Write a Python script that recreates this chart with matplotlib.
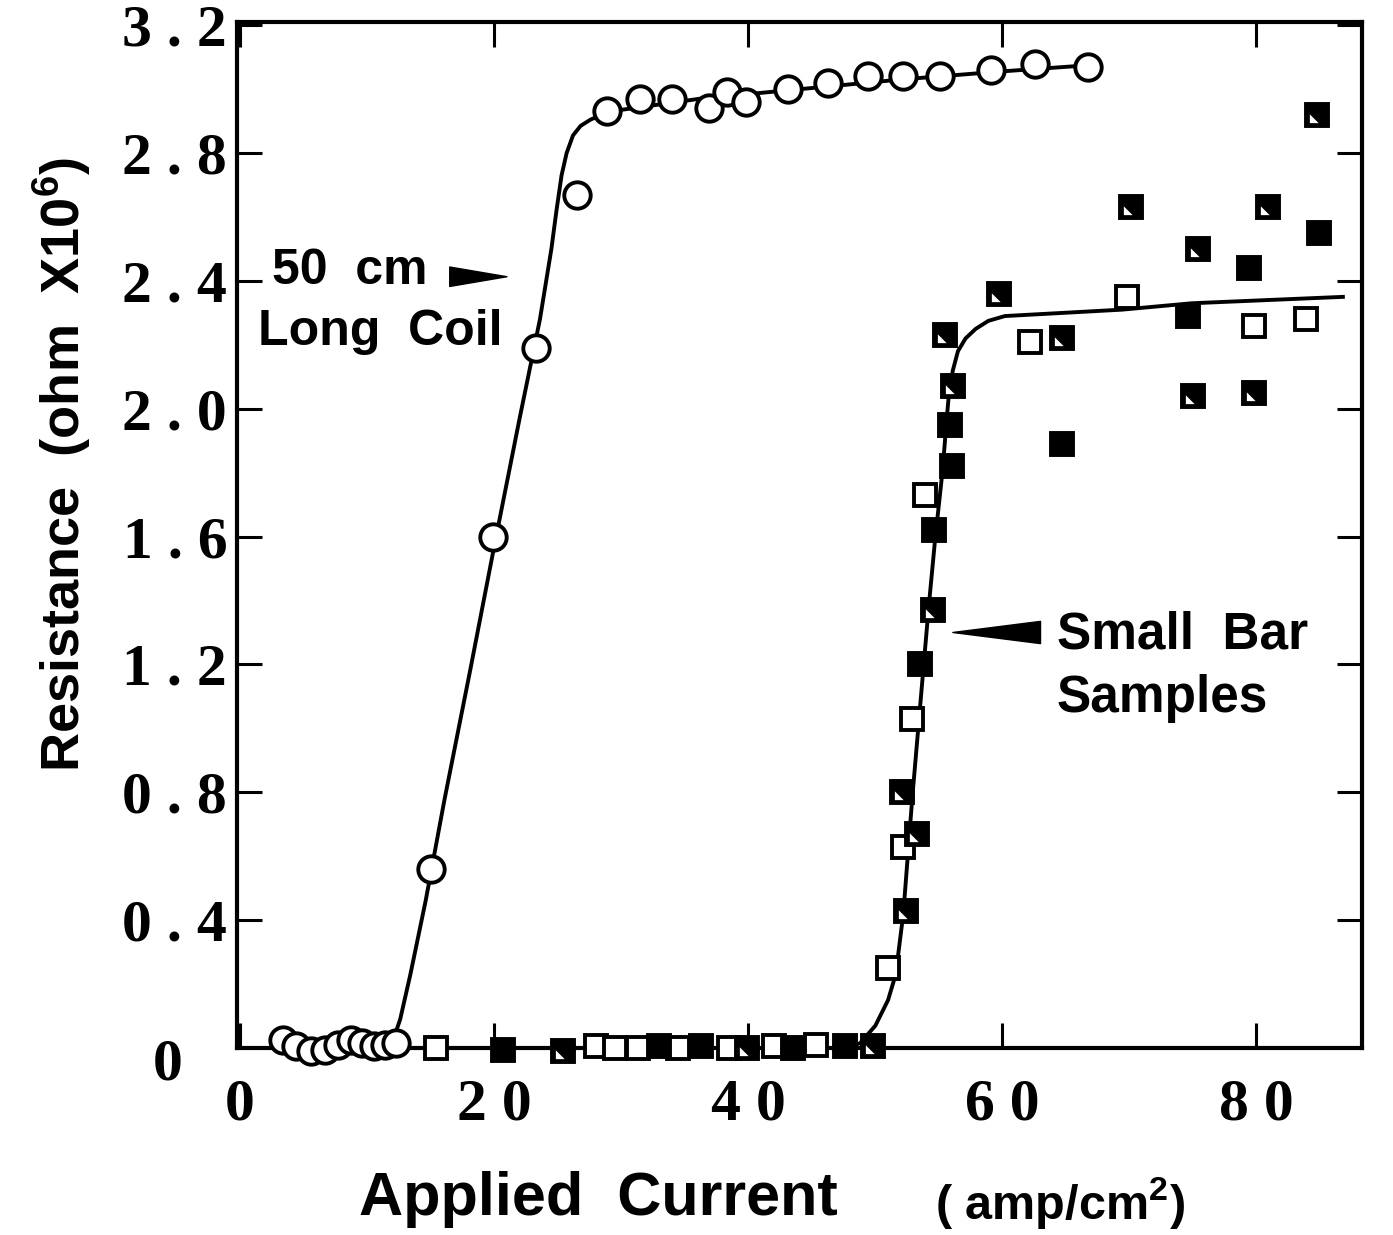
import matplotlib.pyplot as plt
import numpy as np

# fonts: sans bold for words, serif bold for the tick numbers
plt.rcParams['mathtext.fontset'] = 'custom'
plt.rcParams['mathtext.rm'] = 'Liberation Sans:bold'
plt.rcParams['mathtext.bf'] = 'Liberation Sans:bold'
plt.rcParams['mathtext.default'] = 'rm'
SANS = 'Liberation Sans'
SERIF = 'Liberation Serif'

# 50 cm long coil, measured points (open circles)
coil_x = [3.4, 4.4, 5.6, 6.7, 7.7, 8.7, 9.6, 10.5, 11.4, 12.3,
          15.0, 19.9, 23.3, 26.5, 28.9, 31.5, 34.0, 36.9, 38.3, 39.8,
          43.1, 46.3, 49.4, 52.2, 55.1, 59.1, 62.6, 66.7]
coil_y = [0.025, 0.005, -0.01, -0.005, 0.01, 0.025, 0.015, 0.005, 0.01, 0.015,
          0.56, 1.60, 2.19, 2.67, 2.93, 2.97, 2.97, 2.94, 2.99, 2.96,
          3.00, 3.02, 3.04, 3.04, 3.04, 3.06, 3.08, 3.07]

# drawn trend line through the coil points
coil_line_x = [11.0, 12.0, 12.6, 13.4, 14.6, 16.1, 18.1, 20.1, 22.0, 23.6,
               24.5, 24.9, 25.3, 25.7, 26.2, 26.8, 27.6, 29.1, 36.2, 44.1, 52.0, 59.8, 66.9]
coil_line_y = [0.0, 0.02, 0.09, 0.23, 0.46, 0.78, 1.18, 1.59, 1.97, 2.28,
               2.50, 2.62, 2.73, 2.80, 2.855, 2.885, 2.905, 2.93, 2.97, 3.00, 3.03, 3.055, 3.075]

# small bar samples: O = open, F = filled, H = filled with white corner
bar_x = [15.4, 20.7, 25.4, 28.0, 29.5, 31.3, 33.0, 34.5, 36.3, 38.5, 39.9, 42.0, 43.5, 45.3, 47.6, 49.8,
         51.0, 52.4, 52.2, 53.3, 52.1, 52.9, 53.5, 54.5, 54.6, 53.9, 56.0, 55.9, 56.1, 55.5,
         59.7, 62.2, 64.7, 64.7, 69.8, 74.6, 75.0, 79.8, 79.8, 83.9, 70.1, 75.4, 79.4, 80.9, 84.9, 84.8]
bar_y = [0.0, -0.005, -0.01, 0.005, 0.0, 0.0, 0.005, 0.0, 0.005, 0.0, 0.0, 0.005, 0.0, 0.01, 0.005, 0.005,
         0.25, 0.43, 0.63, 0.67, 0.80, 1.03, 1.20, 1.37, 1.62, 1.73, 1.82, 1.95, 2.07, 2.23,
         2.36, 2.21, 2.22, 1.89, 2.35, 2.29, 2.04, 2.26, 2.05, 2.28, 2.63, 2.50, 2.44, 2.63, 2.55, 2.92]
bar_kind = "OFHOOOFOFOHOFOFH" + "OHOHHOFHFOFFHH" + "HOHFOFHOHOHHFHFH"

bar_line_x = [47.5, 48.8, 50.0, 51.0, 51.6, 52.2, 52.9, 53.7, 54.2, 54.7, 55.3, 55.6,
              55.8, 56.1, 56.5, 57.1, 57.9, 58.9, 60.2, 69.4, 74.9, 86.8]
bar_line_y = [0.0, 0.015, 0.07, 0.15, 0.23, 0.42, 0.78, 1.15, 1.38, 1.59, 1.81, 1.96,
              2.05, 2.12, 2.18, 2.22, 2.25, 2.275, 2.29, 2.31, 2.33, 2.35]

x_ticks = [0, 20, 40, 60, 80]
x_labels = ['0', '2 0', '4 0', '6 0', '8 0']
y_ticks = [0.4, 0.8, 1.2, 1.6, 2.0, 2.4, 2.8, 3.2]
y_labels = ['0 . 4', '0 . 8', '1 . 2', '1 . 6', '2 . 0', '2 . 4', '2 . 8', '3 . 2']


fig = plt.figure(figsize=(13.93, 12.35), dpi=100)
ax = fig.add_axes([0.1701, 0.1514, 0.8076, 0.8308])

# curves
ax.plot(coil_line_x, coil_line_y, color='black', lw=2.8, zorder=2, clip_on=False)
ax.plot(bar_line_x, bar_line_y, color='black', lw=2.8, zorder=2, clip_on=False)

# circles
ax.plot(coil_x, coil_y, 'o', ms=19, mfc='white', mec='black', mew=2.8, zorder=3, clip_on=False)

# squares
bx = np.array(bar_x)
by = np.array(bar_y)
kind = np.array(list(bar_kind))
op = kind == 'O'
ax.plot(bx[op], by[op], 's', ms=15.5, mfc='white', mec='black', mew=2.8, zorder=4, clip_on=False)
sol = kind != 'O'
ax.plot(bx[sol], by[sol], 's', ms=15.5, mfc='black', mec='black', mew=2.8, zorder=4, clip_on=False)
hf = kind == 'H'
corner = [(-1, -1), (-1, 0.15), (0.15, -1)]
ax.plot(bx[hf], by[hf], marker=corner, ls='none', ms=11, mfc='white', mew=0, zorder=5, clip_on=False)

# labels inside the plot
ax.text(2.5, 2.43, '50  cm', fontsize=36, fontfamily=SANS, fontweight='bold', va='center')
ax.text(1.4, 2.24, 'Long  Coil', fontsize=36, fontfamily=SANS, fontweight='bold', va='center')
ax.annotate('', xy=(21.0, 2.413), xytext=(16.5, 2.413),
            arrowprops=dict(arrowstyle='wedge,tail_width=1.0,shrink_factor=0.5',
                            color='black', mutation_scale=14, shrinkA=0, shrinkB=0))

ax.text(64.3, 1.293, 'Small  Bar', fontsize=37, fontfamily=SANS, fontweight='bold', va='center')
ax.text(64.3, 1.095, 'Samples', fontsize=37, fontfamily=SANS, fontweight='bold', va='center')
ax.annotate('', xy=(56.1, 1.30), xytext=(63.0, 1.30),
            arrowprops=dict(arrowstyle='wedge,tail_width=1.0,shrink_factor=0.5',
                            color='black', mutation_scale=16, shrinkA=0, shrinkB=0))

# axes
ax.set_xlim(-0.25, 88.3)
ax.set_ylim(0, 3.21)
ax.set_xticks(x_ticks)
ax.set_xticklabels(x_labels, fontsize=43, fontfamily=SERIF, fontweight='bold')
ax.set_yticks(y_ticks)
ax.set_yticklabels(y_labels, fontsize=43, fontfamily=SERIF, fontweight='bold')
ax.tick_params(direction='in', length=18, width=2.2, top=True, right=True)
ax.tick_params(axis='x', pad=22)
ax.tick_params(axis='y', pad=7)
ax.text(-0.062, -0.017, '0', transform=ax.transAxes, fontsize=43, fontfamily=SERIF,
        fontweight='bold', ha='center', va='center')
for s in ax.spines.values():
    s.set_linewidth(3)

fig.text(62 / 1393, 1 - 465 / 1235, 'Resistance  (ohm  X10$^{6}$)', rotation=90,
         ha='center', va='center', fontsize=39, fontfamily=SANS, fontweight='bold')
fig.text(598 / 1393, 1 - 1200 / 1235, 'Applied  Current', ha='center', va='center',
         fontsize=44, fontfamily=SANS, fontweight='bold')
fig.text(1060 / 1393, 1 - 1203 / 1235, '( amp/cm$^{2}$)', ha='center', va='center',
         fontsize=35, fontfamily=SANS, fontweight='bold')

fig.savefig('out.png', dpi=100, facecolor='white')
